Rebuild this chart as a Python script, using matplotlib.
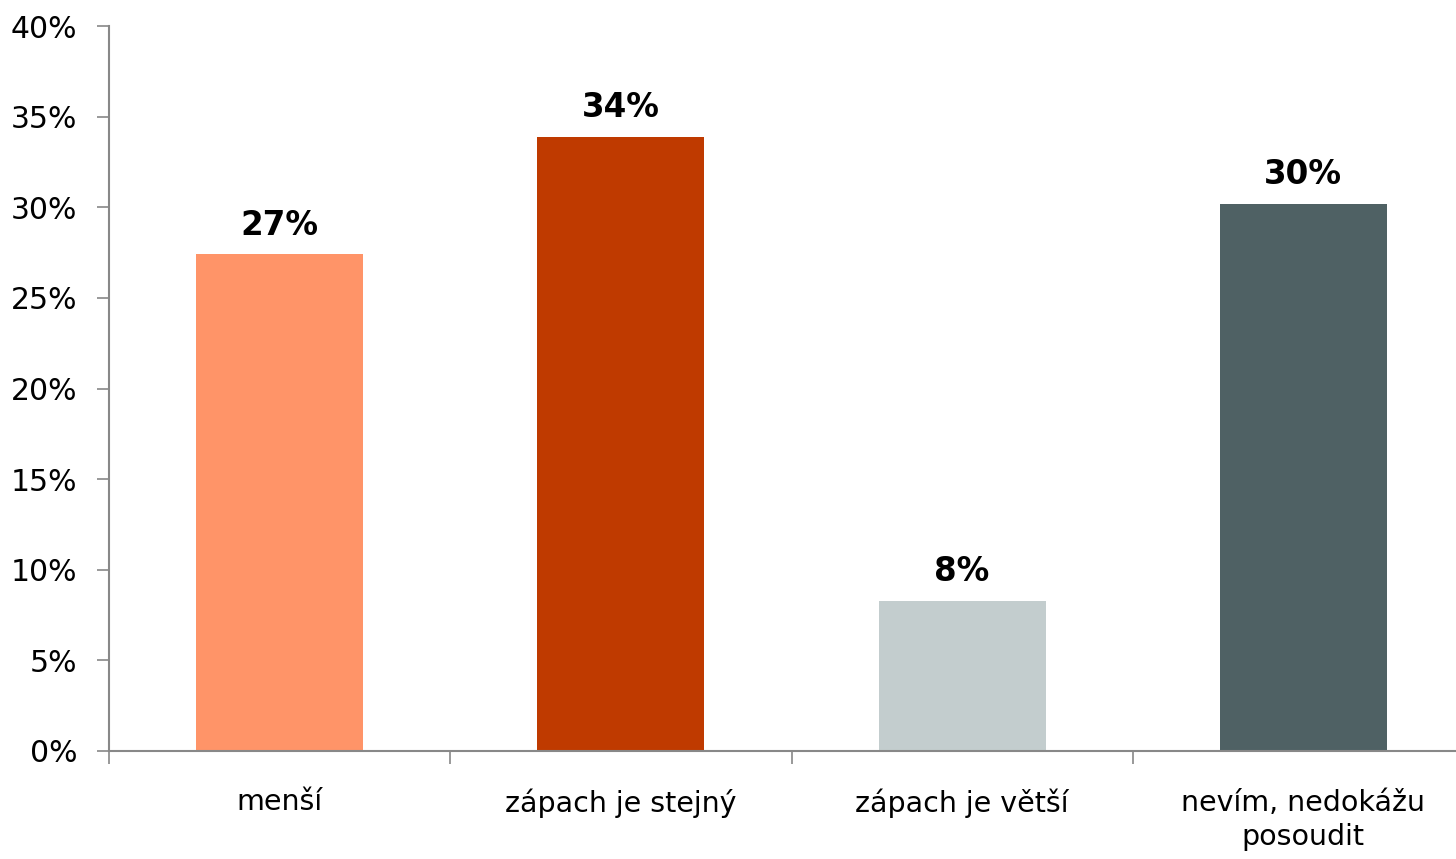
import matplotlib.pyplot as plt
from matplotlib.ticker import PercentFormatter

categories = ['menší', 'zápach je stejný', 'zápach je větší', 'nevím, nedokážu\nposoudit']
values = [27.4, 33.9, 8.3, 30.2]
labels = ['27%', '34%', '8%', '30%']
colors = ['#FF9468', '#BF3A00', '#C3CDCE', '#4F6164']

plt.rcParams['font.family'] = ['DejaVu Sans']

fig = plt.figure(figsize=(14.56, 8.59), dpi=100)
ax = fig.add_axes([109 / 1456, 1 - 751 / 859, 1365 / 1456, 725 / 859])

x = range(len(categories))
bars = ax.bar(x, values, width=0.49, color=colors, zorder=2)

for bar, lab in zip(bars, labels):
    ax.annotate(lab, (bar.get_x() + bar.get_width() / 2, bar.get_height()),
                xytext=(0, 9), textcoords='offset points', ha='center', va='bottom',
                fontsize=23.5, fontweight='bold', color='black')

ax.set_xlim(-0.5, 3.5)
ax.set_ylim(0, 40)
ax.set_yticks(range(0, 41, 5))
ax.yaxis.set_major_formatter(PercentFormatter(decimals=0))

# category labels centred, ticks between categories
ax.set_xticks([i - 0.5 for i in range(5)])
ax.set_xticklabels([])
ax.set_xticks(list(x), minor=True)
ax.set_xticklabels(categories, minor=True, fontsize=20.5, va='top', linespacing=1.3)
ax.tick_params(axis='x', which='minor', length=0, pad=27)
ax.tick_params(axis='x', which='major', length=9, width=1.2, color='#888888', direction='out')
ax.tick_params(axis='y', length=9, width=1.2, color='#888888', labelsize=21.5, pad=14)

for side in ['top', 'right']:
    ax.spines[side].set_visible(False)
for side in ['left', 'bottom']:
    ax.spines[side].set_color('#888888')
    ax.spines[side].set_linewidth(1.5)

fig.savefig('out.png', dpi=100)
